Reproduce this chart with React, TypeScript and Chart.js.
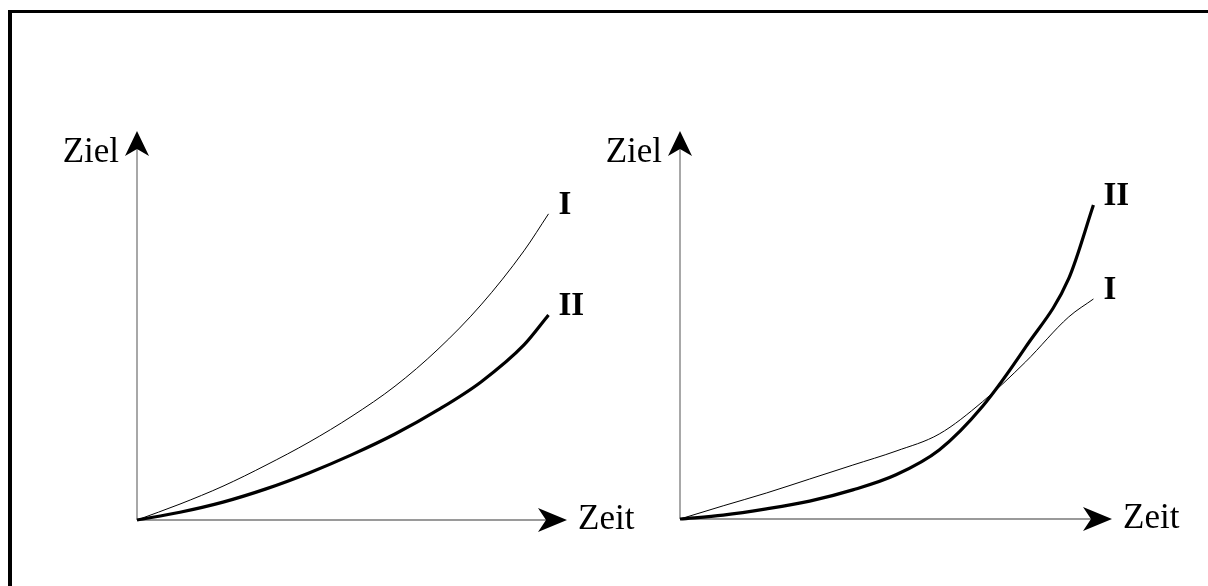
import { useEffect, useRef } from "react";
import { Chart, registerables } from "chart.js";

Chart.register(...registerables);

// Time (x) positions, shared by every curve (0..100 = axis length)
const timeX = [0, 10, 20, 30, 40, 50, 60, 70, 80, 90, 95.7];

// Left panel: goal (y) values, 0..100 = axis length
const leftI = [0, 4.1, 8.7, 14.1, 20.0, 26.7, 34.4, 43.9, 55.3, 69.2, 78.7];
const leftII = [0, 2.0, 4.6, 8.0, 12.1, 16.8, 22.1, 28.3, 35.5, 45.0, 52.7];

// Right panel
const rightI = [0, 3.4, 6.7, 10.3, 13.9, 17.5, 21.9, 30.2, 40.5, 52.1, 56.7];
const rightII = [0, 1.0, 2.6, 4.6, 7.5, 11.4, 17.8, 29.0, 44.3, 62.0, 80.9];

const axisTitles = ["Ziel", "Zeit"];
const seriesNames = ["I", "II"];

const FONT = "'Liberation Serif'";

const arrowAxesPlugin = {
  id: "arrowAxes",
  beforeDatasetsDraw(chart: any) {
    const { ctx, scales } = chart;
    const x = scales.x;
    const y = scales.y;
    const x0 = x.getPixelForValue(0);
    const y0 = y.getPixelForValue(0);
    const xEnd = x.getPixelForValue(x.max);
    const yEnd = y.getPixelForValue(y.max);
    ctx.save();
    ctx.strokeStyle = "#7a7a7a";
    ctx.lineWidth = 1.3;
    ctx.beginPath();
    ctx.moveTo(x0, y0);
    ctx.lineTo(x0, yEnd + 12);
    ctx.moveTo(x0, y0);
    ctx.lineTo(xEnd - 12, y0);
    ctx.stroke();

    ctx.fillStyle = "#000";
    // y arrow head
    ctx.beginPath();
    ctx.moveTo(x0, yEnd);
    ctx.lineTo(x0 + 12, yEnd + 25);
    ctx.lineTo(x0, yEnd + 18);
    ctx.lineTo(x0 - 12, yEnd + 25);
    ctx.closePath();
    ctx.fill();
    // x arrow head
    ctx.beginPath();
    ctx.moveTo(xEnd, y0);
    ctx.lineTo(xEnd - 29, y0 - 12);
    ctx.lineTo(xEnd - 21, y0);
    ctx.lineTo(xEnd - 29, y0 + 12);
    ctx.closePath();
    ctx.fill();

    ctx.font = `35px ${FONT}`;
    ctx.textBaseline = "alphabetic";
    ctx.textAlign = "right";
    ctx.fillText(axisTitles[0], x0 - 18, yEnd + 31);
    ctx.textAlign = "left";
    ctx.fillText(axisTitles[1], xEnd + 11, y0 + 9);
    ctx.restore();
  },
  afterDatasetsDraw(chart: any) {
    const { ctx } = chart;
    ctx.save();
    ctx.font = `bold 33px ${FONT}`;
    ctx.fillStyle = "#000";
    ctx.textAlign = "left";
    ctx.textBaseline = "alphabetic";
    chart.data.datasets.forEach((ds: any, i: number) => {
      const meta = chart.getDatasetMeta(i);
      const last = meta.data[meta.data.length - 1];
      ctx.fillText(ds.label, last.x + 10, last.y);
    });
    ctx.restore();
  },
};

function makeConfig(seriesI: number[], seriesII: number[], padding: any) {
  const pts = (arr: number[]) => arr.map((v, i) => ({ x: timeX[i], y: v }));
  return {
    type: "line" as const,
    data: {
      datasets: [
        {
          label: seriesNames[0],
          data: pts(seriesI),
          borderColor: "#000",
          borderWidth: 1,
          pointRadius: 0,
          cubicInterpolationMode: "monotone" as const,
          fill: false,
          clip: 10,
        },
        {
          label: seriesNames[1],
          data: pts(seriesII),
          borderColor: "#000",
          borderWidth: 3.2,
          pointRadius: 0,
          cubicInterpolationMode: "monotone" as const,
          fill: false,
          clip: 10,
        },
      ],
    },
    options: {
      responsive: false,
      animation: false as const,
      layout: { padding },
      plugins: { legend: { display: false }, tooltip: { enabled: false } },
      scales: {
        x: { type: "linear" as const, min: 0, max: 100, display: false },
        y: { type: "linear" as const, min: 0, max: 100, display: false },
      },
    },
    plugins: [arrowAxesPlugin],
  };
}

export default function App() {
  const leftRef = useRef<HTMLCanvasElement>(null);
  const rightRef = useRef<HTMLCanvasElement>(null);

  useEffect(() => {
    let c1: Chart | null = null;
    let c2: Chart | null = null;
    let cancelled = false;
    const build = () => {
      if (cancelled) return;
      c1 = new Chart(
        leftRef.current!,
        makeConfig(leftI, leftII, { left: 137, right: 641, top: 131, bottom: 66 }) as any
      );
      c2 = new Chart(
        rightRef.current!,
        makeConfig(rightI, rightII, { left: 680, right: 96, top: 131, bottom: 67 }) as any
      );
    };
    const fonts: any = (document as any).fonts;
    if (fonts && fonts.load) {
      Promise.all([
        fonts.load(`35px ${FONT}`),
        fonts.load(`bold 33px ${FONT}`),
      ])
        .catch(() => null)
        .then(build);
    } else {
      build();
    }
    return () => {
      cancelled = true;
      if (c1) c1.destroy();
      if (c2) c2.destroy();
    };
  }, []);

  return (
    <div
      style={{
        position: "absolute",
        left: 0,
        top: 0,
        width: 1208,
        height: 586,
        overflow: "hidden",
        background: "#fff",
      }}
    >
      <div
        style={{
          position: "absolute",
          left: 8,
          top: 10,
          width: 1200,
          height: 576,
          borderTop: "3px solid #000",
          borderLeft: "4px solid #000",
          boxSizing: "border-box",
        }}
      />
      <canvas
        ref={leftRef}
        width={1208}
        height={586}
        style={{ position: "absolute", left: 0, top: 0 }}
      />
      <canvas
        ref={rightRef}
        width={1208}
        height={586}
        style={{ position: "absolute", left: 0, top: 0 }}
      />
    </div>
  );
}
